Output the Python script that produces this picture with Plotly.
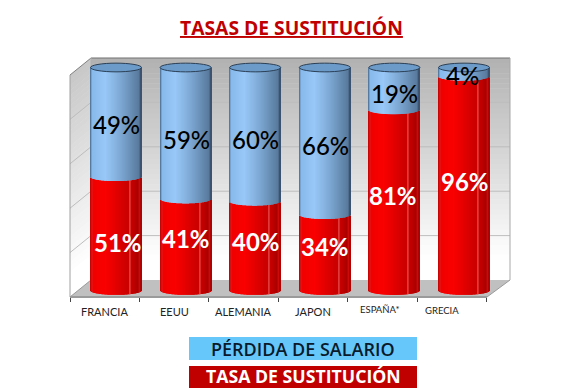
import math
import plotly.graph_objects as go

categories = ["FRANCIA", "EEUU", "ALEMANIA", "JAPON", "ESPAÑA*", "GRECIA"]
tasa_sustitucion = [51, 41, 40, 34, 81, 96]
perdida_salario = [49, 59, 60, 66, 19, 4]
title_text = "TASAS DE SUSTITUCIÓN"
legend_blue = "PÉRDIDA DE SALARIO"
legend_red = "TASA DE SUSTITUCIÓN"

# ---- layout geometry (pixels) ----
W, H = 580, 392
L, R, T, B = 70, 510, 58, 297
BACK_X, BACK_Y = 91, 280
FRONT_R = 487
PX_PER_UNIT = 2.23
ZERO_PX = 290.5
CAT_STEP = 69.6
FIRST_CX = 116
CYL_W = 51 / CAT_STEP
CAP = 1.95
N = 51


def px(x):
    return (x - L) / (R - L)


def py(y):
    return (B - y) / (B - T)


def lerp_stops(stops, t):
    for (a, ca), (b, cb) in zip(stops, stops[1:]):
        if a <= t <= b:
            f = (t - a) / (b - a) if b > a else 0
            c = [round(ca[i] + (cb[i] - ca[i]) * f) for i in range(3)]
            return f"rgb({c[0]},{c[1]},{c[2]})"
    c = stops[-1][1]
    return f"rgb({c[0]},{c[1]},{c[2]})"


RED = [(0, (190, 0, 0)), (.04, (225, 20, 20)), (.07, (240, 0, 0)), (.3, (250, 0, 0)),
       (.7, (205, 0, 0)), (.76, (205, 0, 0)), (.78, (232, 80, 80)), (.81, (200, 0, 0)),
       (.94, (170, 0, 0)), (.97, (205, 10, 10)), (1, (160, 0, 0))]
BLUE = [(0, (70, 100, 135)), (.04, (135, 185, 235)), (.3, (152, 200, 248)),
        (.6, (125, 168, 212)), (.96, (88, 122, 156)), (1, (50, 70, 95))]

fig = go.Figure()
idx = list(range(len(categories)))
dw = CYL_W / N
for j in range(N):
    u = (j + .5) / N
    s = math.sqrt(max(0, 1 - (2 * u - 1) ** 2))
    off = -CYL_W / 2 + j * dw
    width = dw * (1.25 if j < N - 1 else 1)
    fig.add_bar(x=categories, y=tasa_sustitucion, base=[-CAP * s] * len(idx),
                offset=off, width=width, marker=dict(color=lerp_stops(RED, u), line_width=0),
                showlegend=False, hoverinfo="skip", xaxis="x", yaxis="y")
    fig.add_bar(x=categories, y=[p + CAP * s for p in perdida_salario],
                base=[v - CAP * s for v in tasa_sustitucion],
                offset=off, width=width, marker=dict(color=lerp_stops(BLUE, u), line_width=0),
                showlegend=False, hoverinfo="skip", xaxis="x", yaxis="y")

# invisible trace that gives the front (tick) axis its categories
fig.add_scatter(x=categories, y=[0] * len(idx), mode="none", xaxis="x2", yaxis="y",
                showlegend=False, hoverinfo="skip")

shapes = []
WALL_STEPS = 44
for i in range(WALL_STEPS):
    f0, f1 = i / WALL_STEPS, (i + 1) / WALL_STEPS
    g = round(178 + (255 - 178) * min(1, f0 * 1.12))
    col = f"rgb({g},{g},{g})"
    y0 = T + (BACK_Y - T) * f0
    y1 = T + (BACK_Y - T) * f1 + .6
    shapes.append(dict(type="rect", xref="paper", yref="paper", x0=px(BACK_X), x1=px(R),
                       y0=py(y0), y1=py(y1), fillcolor=col, line_width=0, layer="below"))
    g2 = round(200 + (255 - 200) * min(1, f0 * 1.12))
    col2 = f"rgb({g2},{g2},{g2})"
    pts = [(BACK_X, y0), (BACK_X, y1), (L, y1 + (B - BACK_Y)), (L, y0 + (B - BACK_Y))]
    shapes.append(dict(type="path", xref="paper", yref="paper", layer="below",
                       path="M" + " L".join(f"{px(a):.5f},{py(b):.5f}" for a, b in pts) + " Z",
                       fillcolor=col2, line_width=0))
# floor
pts = [(L, B), (BACK_X, BACK_Y), (R, BACK_Y), (FRONT_R, B)]
shapes.append(dict(type="path", xref="paper", yref="paper", layer="below",
                   path="M" + " L".join(f"{px(a):.5f},{py(b):.5f}" for a, b in pts) + " Z",
                   fillcolor="#c0c0c0", line_width=0))
# grid lines on the walls
for g in [20, 40, 60, 80]:
    yb = BACK_Y - (BACK_Y - T) * g / 100
    shapes.append(dict(type="line", xref="paper", yref="paper", layer="below", x0=px(BACK_X), x1=px(R),
                       y0=py(yb), y1=py(yb), line=dict(color="#bdbdbd", width=1)))
    shapes.append(dict(type="line", xref="paper", yref="paper", layer="below", x0=px(L), x1=px(BACK_X),
                       y0=py(yb + B - BACK_Y), y1=py(yb), line=dict(color="#bdbdbd", width=1)))
# wall frame
for (a, b, c, d, col, wid) in [
    (BACK_X, T, R, T, "#707070", 1.2), (R, T, R, BACK_Y, "#a8a8a8", 1),
    (L, T + B - BACK_Y, BACK_X, T, "#808080", 1), (L, T + B - BACK_Y, L, B, "#a0a0a0", 1),
    (BACK_X, T, BACK_X, BACK_Y, "#b0b0b0", 1), (L, B, FRONT_R, B, "#9a9a9a", 2),
    (FRONT_R, B, R, BACK_Y, "#9a9a9a", 1), (L, B, BACK_X, BACK_Y, "#9a9a9a", 1),
]:
    shapes.append(dict(type="line", xref="paper", yref="paper", layer="below",
                       x0=px(a), x1=px(c), y0=py(b), y1=py(d), line=dict(color=col, width=wid)))
# cylinder caps, from the top of each stack
for i, (r, p) in enumerate(zip(tasa_sustitucion, perdida_salario)):
    top = r + p
    shapes.append(dict(type="circle", xref="x", yref="y", x0=i - CYL_W / 2, x1=i + CYL_W / 2,
                       y0=top - CAP, y1=top + CAP, fillcolor="#6c9bca",
                       line=dict(color="#2a3f55", width=1), layer="above"))

# legend bars
shapes.append(dict(type="rect", xref="paper", yref="paper", x0=px(189), x1=px(417), y0=py(337), y1=py(360),
                   fillcolor="#66c7fb", line_width=0))
shapes.append(dict(type="rect", xref="paper", yref="paper", x0=px(189), x1=px(417), y0=py(366), y1=py(388),
                   fillcolor="#c00000", line_width=0))

ann = []
blue_shift = [-2, -6, -5, -4, -5, -4]
red_shift = [-9, 6, 4, 6, 5, 2]
blue_dx = [0, 1, 0, 1, 0, -2]
red_dx = [2, 0, 1, 0, -1, 1]
for i in idx:
    r, p = tasa_sustitucion[i], perdida_salario[i]
    ann.append(dict(x=i, y=r + p / 2, xref="x", yref="y", text=f"{p}%", showarrow=False, yshift=blue_shift[i],
                    xshift=blue_dx[i], font=dict(family="Lato", size=24, color="#000000", weight=500)))
    ann.append(dict(x=i, y=r / 2, xref="x", yref="y", text=f"<b>{r}%</b>", showarrow=False, yshift=red_shift[i],
                    xshift=red_dx[i], font=dict(family="Lato", size=24, color="#ffffff")))

label_dx = [0, 0, 0, 0, -2, -10]
label_dy = [0, 0, 0, 0, 2, 1]
label_size = [11, 11, 11, 11, 9.5, 9.5]
for i, c in enumerate(categories):
    ann.append(dict(x=c, y=0, xref="x2", yref="paper", text=c, showarrow=False, yanchor="middle",
                    xanchor="center", yshift=-14 + label_dy[i], xshift=label_dx[i],
                    font=dict(family="Lato", size=label_size[i], color="#222222")))

ann.append(dict(x=px(291), y=py(27), xref="paper", yref="paper", text=f"<b><u>{title_text}</u></b>",
                xanchor="center", yanchor="middle", showarrow=False,
                font=dict(family="Open Sans", size=19.3, color="#c00000")))
ann.append(dict(x=px(303), y=py(348.5), xref="paper", yref="paper", text=legend_blue, showarrow=False,
                xanchor="center", yanchor="middle",
                font=dict(family="Open Sans", size=18, color="#0a1a2a", weight=600)))
ann.append(dict(x=px(303), y=py(376), xref="paper", yref="paper", text=f"<b>{legend_red}</b>", showarrow=False,
                xanchor="center", yanchor="middle",
                font=dict(family="Open Sans", size=17.7, color="#ffffff")))

fig.update_layout(
    width=W, height=H, autosize=False, barmode="overlay",
    margin=dict(l=L, r=W - R, t=T, b=H - B, pad=0),
    paper_bgcolor="white", plot_bgcolor="rgba(0,0,0,0)", showlegend=False,
    xaxis=dict(type="category", categoryorder="array", categoryarray=categories,
               range=[-(FIRST_CX - L) / CAT_STEP, (R - FIRST_CX) / CAT_STEP],
               showticklabels=False, ticks="", showgrid=False, zeroline=False, showline=False, fixedrange=True),
    xaxis2=dict(type="category", categoryorder="array", categoryarray=categories, overlaying="x",
                anchor="y", side="bottom", range=[-0.5, -0.5 + (R - L) / 69.4], tickson="boundaries",
                ticks="outside", ticklen=4, tickcolor="#444444", tickwidth=1,
                showticklabels=False, showgrid=False, zeroline=False, showline=False, fixedrange=True),
    yaxis=dict(range=[(ZERO_PX - B) / PX_PER_UNIT, (ZERO_PX - T) / PX_PER_UNIT],
               showticklabels=False, ticks="", showgrid=False, zeroline=False, showline=False, fixedrange=True),
    shapes=shapes, annotations=ann,
)
fig.write_html("out.html", config={"displayModeBar": False},
               post_script="document.body.style.margin='0';document.documentElement.style.overflow='hidden';")
